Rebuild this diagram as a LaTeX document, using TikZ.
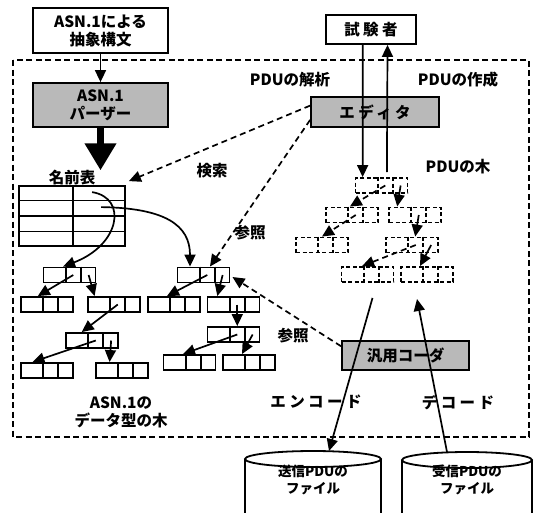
\documentclass[tikz,border=0pt]{standalone}
\usepackage{fontspec}
\setmainfont{Noto Sans CJK JP}
\usetikzlibrary{arrows.meta,calc}
\tikzset{
  x=1pt, y=-1pt,
  every node/.style={font=\bfseries\fontsize{15.5}{18}\selectfont, inner sep=0pt},
  plainbox/.style={draw, line width=1.8pt, fill=white, align=center},
  shadebox/.style={draw, line width=1.8pt, fill=gray!55, align=center},
  cellbox/.style={draw, line width=1.9pt, minimum width=52pt, minimum height=15pt},
  solidcell/.style={solid},
  dashcell/.style={dash pattern=on 4pt off 2.5pt},
  arr/.style={line width=1.7pt, -{Triangle[length=12pt,width=11pt]}},
  darr/.style={arr, dash pattern=on 6pt off 4pt},
  bigarr/.style={line width=7pt, -{Triangle[length=27pt,width=30pt]}},
  frame/.style={line width=1.7pt, dash pattern=on 6pt off 3.5pt},
  spaced/.style={font=\bfseries\fontsize{15.5}{18}\selectfont\addfontfeature{LetterSpace=22}},
  small/.style={font=\bfseries\fontsize{13.5}{16.5}\selectfont, align=center}
}
\newcommand{\mkcell}[4]{%
  \node[cellbox,#4] (#1) at (#2,#3) {};
  \draw[line width=1.9pt,#4] ($(#1.north west)!0.43!(#1.north east)$) -- ($(#1.south west)!0.43!(#1.south east)$)
     ($(#1.north west)!0.71!(#1.north east)$) -- ($(#1.south west)!0.71!(#1.south east)$);
  \coordinate (#1-c2) at ($(#1.west)!0.57!(#1.east)$);
  \coordinate (#1-c3) at ($(#1.west)!0.855!(#1.east)$);
}
\begin{document}
\begin{tikzpicture}
\clip (0,0) rectangle (534,512);
\fill[white] (0,0) rectangle (534,512);

% dashed frame
\draw[frame] (13,60) rectangle (529,437);

% boxes
\node[plainbox, minimum width=135pt, minimum height=45pt] (src) at (100.5,30.5) {ASN.1による\\抽象構文};
\node[shadebox, minimum width=135pt, minimum height=44pt] (parser) at (100.5,105) {ASN.1\\パーザー};
\node[plainbox, minimum width=90pt, minimum height=29pt, spaced] (tester) at (371,29.5) {試験者};
\node[shadebox, minimum width=128pt, minimum height=30pt, spaced] (editor) at (375,112) {エディタ};
\node[shadebox, minimum width=127pt, minimum height=29pt] (enc) at (405.5,355.5) {汎用コーダ};

% name table
\node (ntl) at (72,178) {名前表};
\node[draw, line width=1.8pt, minimum width=106pt, minimum height=60pt] (nt) at (72,216) {};
\draw[line width=1.4pt]
  ($(nt.north west)!0.25!(nt.south west)$) -- ($(nt.north east)!0.25!(nt.south east)$)
  ($(nt.north west)!0.5!(nt.south west)$) -- ($(nt.north east)!0.5!(nt.south east)$)
  ($(nt.north west)!0.75!(nt.south west)$) -- ($(nt.north east)!0.75!(nt.south east)$)
  ($(nt.north west)!0.51!(nt.north east)$) -- ($(nt.south west)!0.51!(nt.south east)$);
\coordinate (r1) at ($(nt.north west)+(74,7)$);
\coordinate (r2) at ($(nt.north west)+(83,22)$);

% ASN.1 data type trees
\mkcell{A}{69.5}{275}{solidcell}
\mkcell{B}{47}{304.5}{solidcell}
\mkcell{C}{114}{304.5}{solidcell}
\mkcell{D}{92}{340.5}{solidcell}
\mkcell{E}{47}{370.5}{solidcell}
\mkcell{F}{122}{370.5}{solidcell}
\mkcell{G}{203.5}{275}{solidcell}
\mkcell{H}{174}{304.5}{solidcell}
\mkcell{I}{233.5}{304.5}{solidcell}
\mkcell{J}{233.5}{334.5}{solidcell}
\mkcell{K}{189.5}{362.5}{solidcell}
\mkcell{L}{249}{362.5}{solidcell}

% PDU tree
\mkcell{P1}{381.5}{185.5}{dashcell}
\mkcell{P2}{352}{215}{dashcell}
\mkcell{P3}{415}{215}{dashcell}
\mkcell{P4}{322}{245}{dashcell}
\mkcell{P5}{412}{245}{dashcell}
\mkcell{P6}{367.5}{274.5}{dashcell}
\mkcell{P7}{427}{274.5}{dashcell}

% labels
\node (t1) at (290,80) {PDUの解析};
\node (t2) at (458,80) {PDUの作成};
\node (t3) at (458,167) {PDUの木};
\node (t4) at (212,171) {検索};
\node (t5) at (250,233) {参照};
\node (t6) at (293,336) {参照};
\node[align=center] (t7) at (121,412) {ASN.1の\\データ型の木};
\node[spaced] (t8) at (316,402) {エンコード};
\node[spaced] (t9) at (458,402) {デコード};

% cylinders (files)
\coordinate (cylS) at (313,459);
\coordinate (cylR) at (467,460);
\draw[line width=1.8pt, fill=white] (cylS) ellipse (68 and 8);
\draw[line width=1.8pt] ($(cylS)+(-68,0)$) -- ($(cylS)+(-68,60)$) ($(cylS)+(68,0)$) -- ($(cylS)+(68,60)$);
\draw[line width=1.8pt, fill=white] (cylR) ellipse (65 and 8);
\draw[line width=1.8pt] ($(cylR)+(-65,0)$) -- ($(cylR)+(-65,60)$) ($(cylR)+(65,0)$) -- ($(cylR)+(65,60)$);
\node[small] (fs) at (313,480) {送信PDUの\\ファイル};
\node[small] (fr) at (467,480) {受信PDUの\\ファイル};

% main flow
\draw[arr] (src.south) -- (parser.north);
\draw[bigarr] (parser.south) -- (parser.south |- ntl.north);

% name table to trees
\draw[arr] (r1) .. controls (128,198) and (120,245) .. ($(A.north west)!0.38!(A.north east)$);
\draw[arr] (r2) .. controls (165,208) and (190,225) .. ($(G.north west)!0.25!(G.north east)$);

% left tree arrows
\draw[arr] (A-c2) -- ($(B.north west)!0.33!(B.north east)$);
\draw[arr] (A-c3) -- ($(C.north west)!0.14!(C.north east)$);
\draw[arr] (C-c2) -- ($(D.north west)!0.31!(D.north east)$);
\draw[arr] (D-c2) -- ($(E.north west)!0.23!(E.north east)$);
\draw[arr] (D-c3) -- ($(F.north west)!0.27!(F.north east)$);
% middle tree arrows
\draw[arr] (G-c2) -- ($(H.north west)!0.37!(H.north east)$);
\draw[arr] (G-c3) -- ($(I.north west)!0.2!(I.north east)$);
\draw[arr] (I-c2) -- ($(J.north west)!0.57!(J.north east)$);
\draw[arr] (J-c2) -- ($(K.north west)!0.38!(K.north east)$);
\draw[arr] (J-c3) -- ($(L.north west)!0.37!(L.north east)$);
% PDU tree arrows
\draw[darr] (P1-c2) -- ($(P2.north west)!0.46!(P2.north east)$);
\draw[arr] (P1-c3) -- ($(P3.north west)!0.17!(P3.north east)$);
\draw[darr] (P2-c2) -- ($(P4.north west)!0.5!(P4.north east)$);
\draw[arr] (P3-c2) -- ($(P5.north west)!0.56!(P5.north east)$);
\draw[darr] (P5-c2) -- ($(P6.north west)!0.4!(P6.north east)$);
\draw[arr] (P5-c3) -- ($(P7.north west)!0.37!(P7.north east)$);

% editor references
\draw[darr] ($(editor.north west)!0.3!(editor.south west)$) -- ($(nt.north east)+(3,-4)$);
\draw[darr] ($(editor.north west)!0.75!(editor.south west)$) -- ($(G.north west)!0.62!(G.north east)$);
\draw[darr] ($(enc.north west)!0.2!(enc.south west)$) -- ($(G.east)+(2,2)$);

% tester <-> PDU tree
\draw[arr] ($(tester.south west)!0.41!(tester.south east)$) -- ($(P1.north west)!0.15!(P1.north east)$);
\draw[arr] ($(P1.north west)!0.6!(P1.north east)+(0,-5)$) -- ($(tester.south west)!0.68!(tester.south east)$);

% encode / decode
\draw[arr] ($(P6.south)+(5,15)$) -- ($(cylS)+(16,-8)$);
\draw[arr] ($(cylR)+(-20,-8)$) -- ($(P7.south)+(-10,16)$);
\end{tikzpicture}
\end{document}
